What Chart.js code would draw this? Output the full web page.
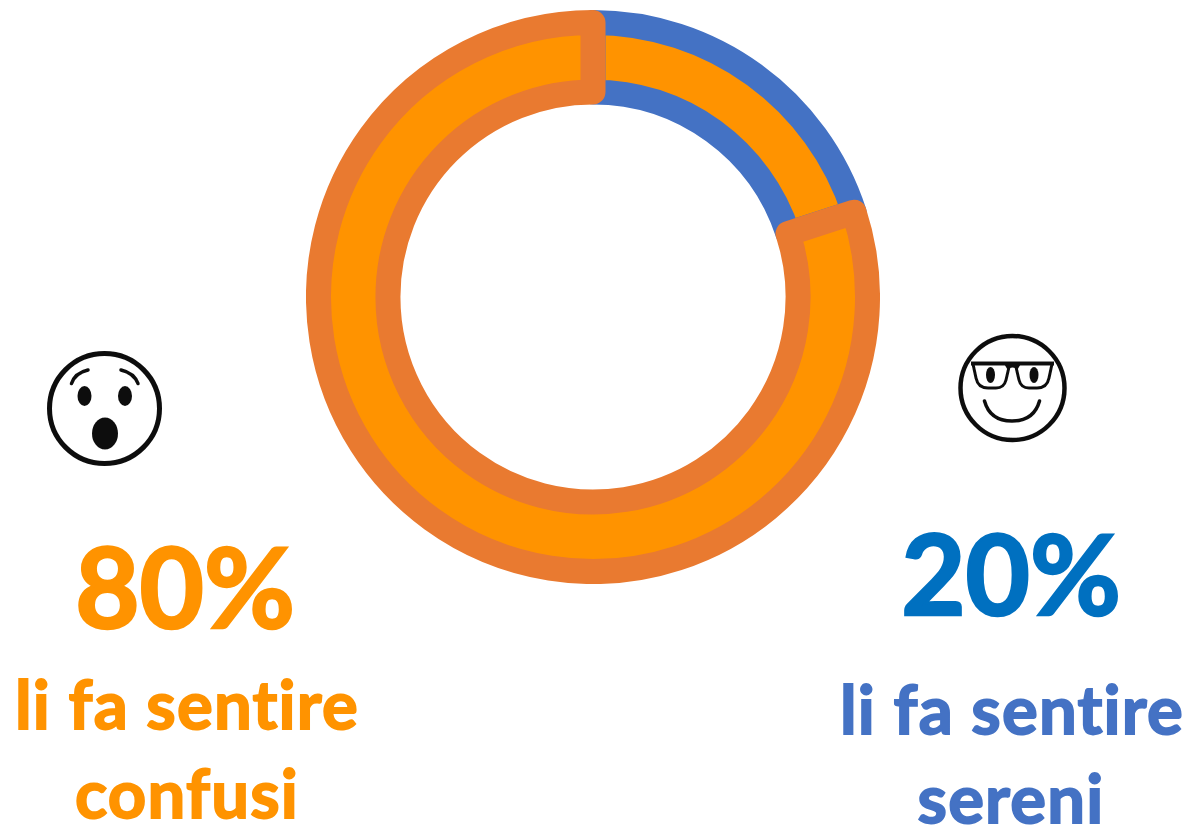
<!DOCTYPE html>
<html lang="it">
<head>
<meta charset="utf-8">
<title>Sereni o confusi</title>
<script src="https://cdn.jsdelivr.net/npm/chart.js@4/dist/chart.umd.min.js"></script>
<style>
html,body{margin:0;padding:0;background:#fff;overflow:hidden;width:1187px;height:827px}
#c{position:absolute;left:306px;top:10px}
#o{position:absolute;left:0;top:0}
text{font-family:Lato,"Open Sans",sans-serif;font-weight:700;text-anchor:middle;font-variant-ligatures:none;font-feature-settings:"liga" 0,"clig" 0}
</style>
</head>
<body>
<canvas id="c" width="574" height="574"></canvas>
<svg id="o" width="1187" height="827" viewBox="0 0 1187 827">
  <defs><filter id="b" x="-5%" y="-5%" width="110%" height="110%"><feGaussianBlur stdDeviation="0.6"/></filter></defs>
  <g fill="none" stroke="#111" filter="url(#b)">
    <circle cx="104.5" cy="408.5" r="55" stroke-width="5"/>
    <path d="M71.5 383.5Q75 373 88 370M121 370Q134 373 138 383.5" stroke-width="3.5" stroke-linecap="round"/>
    <ellipse cx="84.5" cy="396" rx="7" ry="10" fill="#111" stroke="none"/>
    <ellipse cx="125" cy="396" rx="7" ry="10" fill="#111" stroke="none"/>
    <ellipse cx="105" cy="433.5" rx="13" ry="16" fill="#111" stroke="none"/>
    <circle cx="1012.5" cy="388" r="52" stroke-width="4.5"/>
    <path d="M971 363.5H1054" stroke-width="4"/>
    <path d="M973 364L976 378Q978 388 988 388H996Q1004 388 1006 380L1009 367M1016 367L1019 380Q1021 388 1029 388H1037Q1047 388 1049 378L1052 364" stroke-width="3"/>
    <path d="M1006 367Q1012.5 363 1019 367" stroke-width="5"/>
    <ellipse cx="990.5" cy="375" rx="4.5" ry="8" fill="#111" stroke="none"/>
    <ellipse cx="1034" cy="375" rx="4.5" ry="8" fill="#111" stroke="none"/>
    <path d="M984.5 401Q990 421 1012 421Q1034 421 1039.5 401" stroke-width="3.5" stroke-linecap="round"/>
  </g>
  <g id="labels"></g>
</svg>
<script>
const categories = ["li fa sentire sereni", "li fa sentire confusi"];
const values = [20, 80];
const fillColors = ["#FF9300", "#FF9300"];
const borderColors = ["#4472C4", "#E97A30"];

new Chart(document.getElementById("c"), {
  type: "doughnut",
  data: {
    labels: categories,
    datasets: [{
      data: values,
      backgroundColor: fillColors,
      borderColor: borderColors,
      hoverBackgroundColor: fillColors,
      hoverBorderColor: borderColors,
      borderWidth: 25,
      borderAlign: "center",
      borderJoinStyle: "round"
    }]
  },
  options: {
    responsive: false,
    animation: false,
    cutout: "74.7%",
    layout: { padding: 0 },
    plugins: { legend: { display: false }, tooltip: { enabled: false } }
  }
});

const textRows = [
  [values[1] + "%", 185, 628, 111, "#FF9300", 2.6, 0],
  ["li fa sentire", 187, 729, 67, "#FF9300", 1.8, 1.2],
  ["confusi", 187, 818, 67, "#FF9300", 1.8, 1.2],
  [values[0] + "%", 1011, 615, 111, "#0070C0", 2.6, 0],
  ["li fa sentire", 1012, 734, 67, "#4472C4", 1.8, 1.2],
  ["sereni", 1011, 823, 67, "#4472C4", 1.8, 1.2]
];
const g = document.getElementById("labels");
textRows.forEach(([s, x, y, size, color, sw, ls]) => {
  const t = document.createElementNS("http://www.w3.org/2000/svg", "text");
  t.setAttribute("x", x);
  t.setAttribute("y", y);
  t.setAttribute("font-size", size);
  t.setAttribute("fill", color);
  t.setAttribute("stroke", color);
  t.setAttribute("stroke-width", sw);
  t.setAttribute("letter-spacing", ls);
  t.textContent = s;
  g.appendChild(t);
});
</script>
</body>
</html>
